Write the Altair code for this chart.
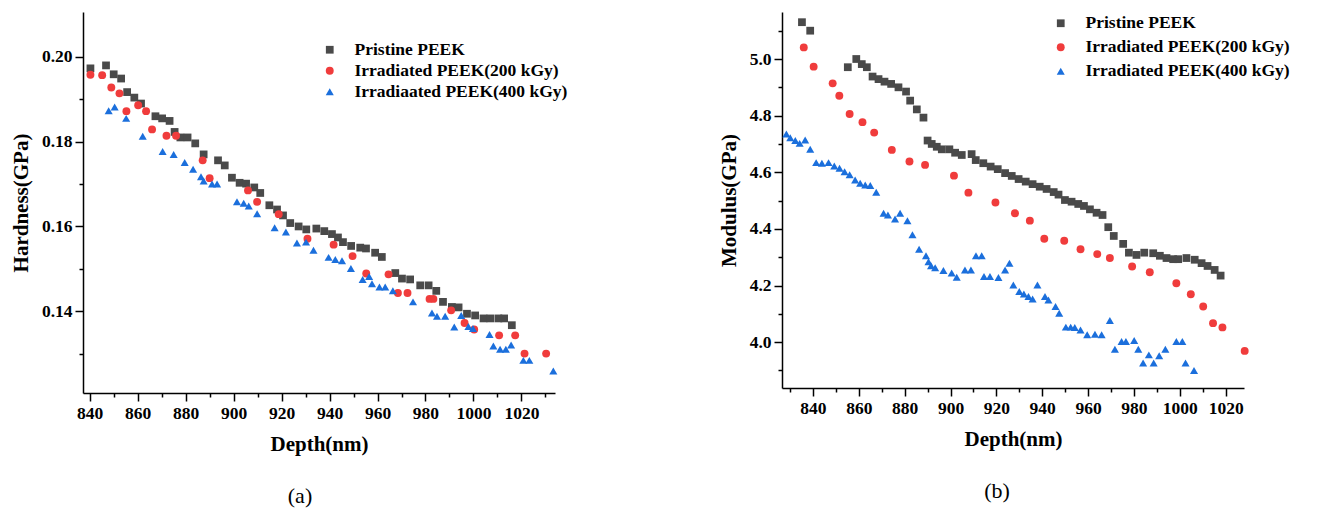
import altair as alt
import pandas as pd

# ---------------- Panel (a): Hardness ----------------
names_a = ["Pristine PEEK", "Irradiated PEEK(200 kGy)", "Irradiaated PEEK(400 kGy)"]

a_pristine_depth = [840.3, 846.8, 850.0, 853.1, 855.6, 858.6, 861.4, 867.4, 870.2, 873.3, 875.4, 877.8,
                    880.8, 884.0, 887.5, 893.5, 896.3, 899.3, 902.5, 905.2, 908.6, 911.1, 914.9, 918.1,
                    920.6, 923.6, 927.1, 930.3, 934.5, 937.8, 941.0, 943.5, 945.6, 949.0, 952.8, 955.2,
                    959.0, 961.8, 967.4, 970.2, 973.6, 977.8, 981.3, 984.5, 987.3, 991.0, 993.8, 997.3,
                    1000.7, 1004.2, 1007.0, 1010.4, 1012.8, 1016.0]
a_pristine_hard = [0.1973, 0.1980, 0.1959, 0.1949, 0.1917, 0.1904, 0.1890, 0.1860, 0.1855, 0.1849, 0.1823, 0.1810,
                   0.1810, 0.1796, 0.1770, 0.1756, 0.1744, 0.1715, 0.1703, 0.1701, 0.1692, 0.1679, 0.1650, 0.1640,
                   0.1626, 0.1608, 0.1600, 0.1593, 0.1595, 0.1589, 0.1582, 0.1574, 0.1563, 0.1554, 0.1550, 0.1548,
                   0.1538, 0.1528, 0.1490, 0.1477, 0.1475, 0.1461, 0.1461, 0.1448, 0.1422, 0.1410, 0.1409, 0.1394,
                   0.1390, 0.1383, 0.1383, 0.1383, 0.1383, 0.1367]

a_200_depth = [840.3, 845.2, 849.0, 852.4, 855.3, 860.2, 863.5, 866.0, 872.0, 876.0, 887.1, 890.0, 906.0, 909.8,
               918.8, 930.8, 941.7, 949.6, 955.3, 964.6, 968.5, 972.5, 981.7, 983.3, 990.7, 996.3, 1000.3,
               1010.7, 1017.4, 1021.3, 1030.3]
a_200_hard = [0.1958, 0.1957, 0.1928, 0.1914, 0.1872, 0.1886, 0.1872, 0.1829, 0.1814, 0.1814, 0.1756, 0.1714,
              0.1685, 0.1658, 0.1629, 0.1571, 0.1557, 0.1530, 0.1489, 0.1487, 0.1443, 0.1443, 0.1429, 0.1429,
              0.1402, 0.1372, 0.1357, 0.1343, 0.1343, 0.1300, 0.1300]

a_400_depth = [847.9, 850.4, 855.2, 862.1, 870.4, 875.0, 879.6, 883.1, 886.4, 887.5, 891.0, 893.1, 901.4, 904.2,
               906.3, 909.8, 917.1, 921.8, 926.4, 930.2, 933.3, 939.6, 942.4, 945.2, 948.9, 953.8, 956.5,
               957.7, 960.8, 963.2, 966.4, 974.8, 982.7, 984.8, 988.2, 992.0, 994.9, 997.9, 999.8, 1006.7,
               1008.3, 1011.1, 1013.5, 1015.7, 1020.8, 1023.3, 1033.3]
a_400_hard = [0.1873, 0.1882, 0.1855, 0.1813, 0.1777, 0.1770, 0.1751, 0.1735, 0.1717, 0.1707, 0.1700, 0.1700,
              0.1658, 0.1655, 0.1648, 0.1630, 0.1597, 0.1587, 0.1561, 0.1563, 0.1544, 0.1527, 0.1522, 0.1519,
              0.1501, 0.1475, 0.1482, 0.1465, 0.1457, 0.1457, 0.1448, 0.1422, 0.1396, 0.1388, 0.1388, 0.1363,
              0.1390, 0.1364, 0.1359, 0.1345, 0.1318, 0.1310, 0.1310, 0.1320, 0.1284, 0.1284, 0.1259]

# ---------------- Panel (b): Modulus ----------------
names_b = ["Pristine PEEK", "Irradiated PEEK(200 kGy)", "Irradiated PEEK(400 kGy)"]

b_pristine_depth = [835.2, 838.8, 855.2, 858.9, 861.3, 863.5, 866.0, 868.6, 871.2, 874.1, 877.3, 880.6, 882.4,
                    885.3, 888.2, 890.0, 891.8, 894.0, 896.2, 899.5, 902.0, 904.9, 909.2, 911.0, 914.3, 917.5,
                    920.6, 923.8, 926.7, 929.7, 932.8, 935.8, 938.9, 941.9, 945.0, 947.1, 949.9, 952.8, 955.7,
                    958.2, 960.8, 963.7, 966.3, 968.8, 971.2, 975.3, 977.8, 981.1, 984.5, 988.4, 991.3, 994.2,
                    997.1, 999.3, 1002.9, 1006.5, 1009.5, 1012.1, 1015.2, 1017.8]
b_pristine_mod = [5.130, 5.100, 4.971, 5.000, 4.982, 4.971, 4.938, 4.929, 4.920, 4.912, 4.900, 4.885, 4.853,
                  4.822, 4.793, 4.712, 4.700, 4.690, 4.681, 4.681, 4.669, 4.661, 4.664, 4.643, 4.632, 4.620,
                  4.611, 4.597, 4.587, 4.576, 4.567, 4.558, 4.549, 4.541, 4.530, 4.521, 4.502, 4.496, 4.488,
                  4.481, 4.469, 4.457, 4.449, 4.406, 4.375, 4.347, 4.316, 4.308, 4.316, 4.314, 4.305, 4.297,
                  4.293, 4.293, 4.297, 4.291, 4.279, 4.269, 4.255, 4.235]

b_200_depth = [836.0, 840.3, 848.6, 851.5, 856.0, 861.6, 866.7, 874.4, 882.1, 888.9, 901.5, 907.8, 919.6, 928.1,
               934.6, 940.9, 949.6, 956.7, 964.0, 969.5, 979.2, 986.9, 998.5, 1004.8, 1010.2, 1014.5, 1018.6,
               1028.3]
b_200_mod = [5.041, 4.973, 4.914, 4.870, 4.806, 4.777, 4.740, 4.679, 4.638, 4.626, 4.588, 4.528, 4.493, 4.455,
             4.429, 4.365, 4.358, 4.328, 4.311, 4.297, 4.267, 4.247, 4.208, 4.169, 4.126, 4.067, 4.052, 3.969]

b_400_depth = [828.4, 830.1, 832.3, 834.2, 836.6, 838.8, 841.4, 843.9, 846.8, 849.3, 851.6, 853.8, 856.0, 858.4,
               860.6, 862.8, 865.0, 867.6, 870.8, 872.7, 875.8, 878.0, 881.2, 883.4, 886.3, 889.3, 890.4, 891.5,
               893.3, 896.9, 900.5, 902.7, 906.3, 908.9, 911.1, 913.6, 914.6, 917.2, 920.9, 923.8, 925.7, 927.4,
               930.0, 932.0, 934.0, 935.8, 937.9, 941.2, 942.7, 945.8, 947.4, 950.3, 952.4, 954.2, 956.7, 959.6,
               963.0, 965.9, 969.5, 971.7, 974.6, 976.5, 980.1, 981.9, 984.0, 986.5, 988.6, 991.0, 993.7, 998.5,
               1001.1, 1002.5, 1006.2]
b_400_mod = [4.735, 4.722, 4.712, 4.702, 4.714, 4.681, 4.634, 4.632, 4.634, 4.622, 4.614, 4.602, 4.591, 4.573,
             4.561, 4.555, 4.553, 4.529, 4.455, 4.449, 4.435, 4.455, 4.429, 4.379, 4.328, 4.305, 4.284, 4.270,
             4.263, 4.253, 4.244, 4.229, 4.255, 4.255, 4.305, 4.305, 4.232, 4.232, 4.228, 4.255, 4.279, 4.202,
             4.179, 4.170, 4.161, 4.152, 4.202, 4.161, 4.149, 4.126, 4.102, 4.053, 4.053, 4.052, 4.043, 4.026,
             4.028, 4.026, 4.076, 3.975, 4.002, 4.002, 4.006, 3.975, 3.926, 3.955, 3.926, 3.952, 3.975, 4.002,
             4.002, 3.926, 3.900]

x_ticks_a = list(range(840, 1031, 10))
y_ticks_a = [0.13, 0.14, 0.15, 0.16, 0.17, 0.18, 0.19, 0.20]
x_ticks_b = list(range(830, 1021, 10))
y_ticks_b = [3.9, 4.0, 4.1, 4.2, 4.3, 4.4, 4.5, 4.6, 4.7, 4.8, 4.9, 5.0, 5.1]

colors = ["#4a4a4a", "#f03c3c", "#1b6fdc"]
shapes = ["square", "circle", "triangle-up"]
sizes = [60, 65, 95]
FONT = "Liberation Serif"


def frame(names, depths, vals):
    rows = []
    for n, ds, vs in zip(names, depths, vals):
        for d, v in zip(ds, vs):
            rows.append({"series": n, "depth": d, "value": v})
    return pd.DataFrame(rows)


df_a = frame(names_a, [a_pristine_depth, a_200_depth, a_400_depth],
             [a_pristine_hard, a_200_hard, a_400_hard])
df_b = frame(names_b, [b_pristine_depth, b_200_depth, b_400_depth],
             [b_pristine_mod, b_200_mod, b_400_mod])


def axis(values, major_test, fmt, title, title_pad):
    return alt.Axis(
        values=values, format=fmt,
        labelExpr=f"({major_test}) ? datum.label : ''",
        tickSize={"condition": {"test": major_test, "value": 8}, "value": 4},
        tickColor="black", tickWidth=1.5, domainColor="black", domainWidth=1.5,
        grid=False, labelFont=FONT, labelFontWeight="bold", labelFontSize=17.5,
        labelColor="black", labelPadding=3, title=title, titleFont=FONT,
        titleFontWeight="bold", titleFontSize=21, titleColor="black", titlePadding=title_pad,
    )


def panel(df, names, xdom, xvals, ydom, yvals, yfmt, ymajor, ytitle, w, h, lx, ly, rowpad, caption, cdx):
    legend = alt.Legend(
        title=None, orient="none", legendX=lx, legendY=ly, padding=0,
        labelFont=FONT, labelFontWeight="bold", labelFontSize=17.5, labelColor="black",
        labelLimit=0, symbolSize=60, symbolStrokeWidth=0, labelOffset=16, rowPadding=rowpad,
    )
    return alt.Chart(df).mark_point(filled=True, opacity=1).encode(
        x=alt.X("depth:Q", scale=alt.Scale(domain=xdom, nice=False, zero=False),
                axis=axis(xvals, "round(datum.value) % 20 === 0", "d", "Depth(nm)", 12)),
        y=alt.Y("value:Q", scale=alt.Scale(domain=ydom, nice=False, zero=False),
                axis=axis(yvals, ymajor, yfmt, ytitle, 10)),
        color=alt.Color("series:N", scale=alt.Scale(domain=names, range=colors), legend=legend),
        shape=alt.Shape("series:N", scale=alt.Scale(domain=names, range=shapes), legend=legend),
        size=alt.Size("series:N", scale=alt.Scale(domain=names, range=sizes), legend=None),
    ).properties(
        width=w, height=h,
        title=alt.Title(caption, orient="bottom", anchor="middle", frame="group", dx=cdx,
                        font=FONT, fontSize=22, fontWeight="normal", color="black", offset=31),
    )


chart_a = panel(df_a, names_a, [837.2, 1034.0], x_ticks_a, [0.1207, 0.2106], y_ticks_a, ".2f",
                "round(datum.value * 100) % 2 === 0", "Hardness(GPa)", 472, 381,
                238, 29, 2, "(a)", -19)
chart_b = panel(df_b, names_b, [826.5, 1028.0], x_ticks_b, [3.838, 5.166], y_ticks_b, ".1f",
                "round(datum.value * 10) % 2 === 0", "Modulus(GPa)", 462, 376,
                270, 2.5, 5, "(b)", -16)

chart = alt.hconcat(chart_a, chart_b, spacing=150).resolve_scale(
    color="independent", shape="independent", size="independent"
).properties(
    padding={"left": 10, "top": 12, "right": 5, "bottom": 5}
).configure_view(stroke=None)

chart.save("out.html", embed_options={"renderer": "svg", "actions": False})
